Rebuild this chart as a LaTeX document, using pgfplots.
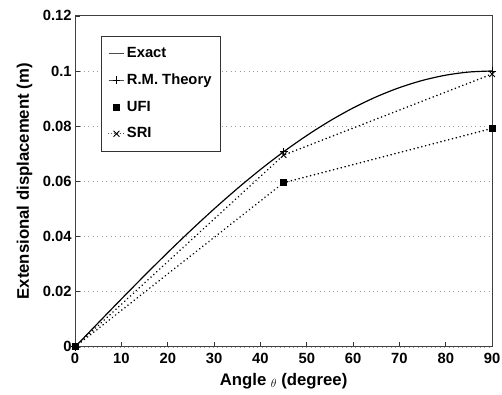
\documentclass[border=0pt]{standalone}
\usepackage{fontspec}
\setmainfont{Liberation Sans}
\usepackage{pgfplots}
\pgfplotsset{compat=1.18}
\begin{document}
\begin{tikzpicture}
\begin{axis}[
  name=ax,
  scale only axis, width=422bp, height=335bp,
  xmin=0, xmax=90, ymin=0, ymax=0.12,
  xtick={0,10,20,30,40,50,60,70,80,90},
  ytick={0,0.02,0.04,0.06,0.08,0.1,0.12},
  yticklabels={0,0.02,0.04,0.06,0.08,0.1,0.12},
  /pgf/number format/assume math mode=true,
  tick pos=left, tick align=inside, major tick length=5bp,
  tick style={black!80, line width=0.6bp},
  axis line style={black!75, line width=0.8bp},
  ymajorgrids,
  grid style={black!40, line width=0.7bp, dash pattern=on 1bp off 3.5bp},
  ticklabel style={font=\fontsize{15}{15}\selectfont\bfseries},
  xticklabel style={yshift=-3bp},
  xlabel={Angle \raisebox{-2bp}{\fontsize{13}{13}\selectfont$\theta$} (degree)},
  ylabel={Extensional displacement (m)},
  xlabel style={at={(axis description cs:0.5,-0.0806)}, anchor=north, inner sep=0pt, font=\fontsize{17}{17}\selectfont\bfseries},
  ylabel style={at={(axis description cs:-0.1019,0.5)}, anchor=south, inner sep=0pt, font=\fontsize{17}{17}\selectfont\bfseries},
  legend style={at={(axis description cs:0.0616,0.940)}, anchor=north west,
    draw=black!80, line width=0.6bp, fill=white,
    font=\fontsize{15}{15}\selectfont\bfseries,
    inner xsep=7bp, inner ysep=9bp, row sep=9bp,
    nodes={inner sep=2bp, text height=11bp, text depth=3bp}},
  legend cell align=left,
]
\addplot[black, line width=1.2bp, smooth,
  legend image code/.code={\draw[black!70,line width=0.8bp] (0bp,0bp)--(16bp,0bp);}]
  coordinates {(0,0) (5,0.008716) (10,0.017365) (15,0.025882) (20,0.034202)
  (25,0.042262) (30,0.05) (35,0.057358) (40,0.064279) (45,0.070711)
  (50,0.076604) (55,0.081915) (60,0.086603) (65,0.090631) (70,0.093969)
  (75,0.096593) (80,0.098481) (85,0.099619) (90,0.1)};
\addlegendentry{Exact}
\addplot[only marks, mark=+, mark size=4bp, black, line width=0.8bp,
  legend image code/.code={\draw[black!70, line width=0.6bp] (0bp,0bp)--(16bp,0bp);
    \draw[black, line width=0.8bp] plot[mark=+, mark size=4bp] coordinates {(8bp,0bp)};}]
  coordinates {(0,0) (45,0.0707) (90,0.1)};
\addlegendentry{R.M. Theory}
\addplot[black, line width=1.8bp, line cap=round, dash pattern=on 0.01bp off 4bp,
  mark=square*, mark size=2.6bp, mark options={solid, black},
  legend image code/.code={\draw[black] plot[mark=square*, mark size=2.6bp] coordinates {(8bp,0bp)};}]
  coordinates {(0,0) (45,0.0595) (90,0.0792)};
\addlegendentry{UFI}
\addplot[black, line width=1.8bp, line cap=round, dash pattern=on 0.01bp off 4bp,
  mark=x, mark size=4bp, mark options={solid, black, line width=0.9bp},
  legend image code/.code={\draw[black!70, line width=1.2bp, line cap=round, dash pattern=on 0.01bp off 3bp] (0bp,0bp)--(16bp,0bp);
    \draw[black, line width=0.8bp] plot[mark=x, mark size=4bp] coordinates {(8bp,0bp)};}]
  coordinates {(0,0) (45,0.0695) (90,0.0989)};
\addlegendentry{SRI}
\end{axis}
\pgfresetboundingbox
\path[use as bounding box] ([shift={(-76bp,-48bp)}]ax.south west) rectangle ([shift={(10bp,16bp)}]ax.north east);
\end{tikzpicture}
\end{document}
